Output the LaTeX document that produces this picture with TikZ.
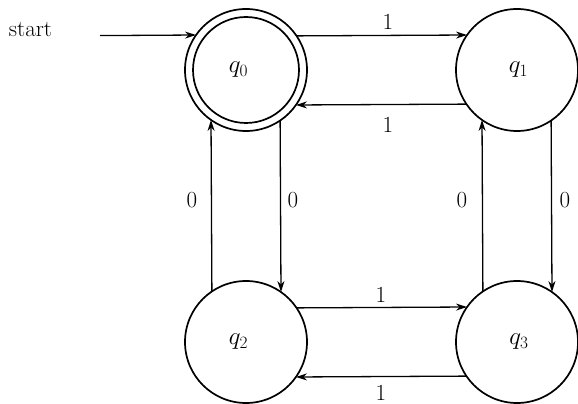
\documentclass[tikz,border=0pt]{standalone}
\usetikzlibrary{arrows.meta}
\begin{document}
\begin{tikzpicture}[x=1pt,y=1pt,
  stnode/.style={circle,draw,line width=1.7pt,minimum size=122pt,inner sep=0pt,outer sep=0pt,font=\fontsize{23}{27}\selectfont},
  trans/.style={line width=1.3pt,-{Stealth[length=11pt,width=7pt,inset=3.5pt]}},
  lbl/.style={font=\fontsize{23}{27}\selectfont,inner sep=0pt}]
\useasboundingbox (0,0) rectangle (578,404);
\node[stnode] (q0) at (246,334) {\hspace*{-15pt}$q_0$};
\node[stnode] (q1) at (517,334) {\hspace*{3pt}$q_1$};
\node[stnode] (q2) at (246,62) {\hspace*{-15pt}$q_2$};
\node[stnode] (q3) at (517,62) {\hspace*{4pt}$q_3$};
\draw[line width=1.7pt] (q0.center) circle[radius=53pt];
% start
\node[lbl,anchor=base] (st) at (30.5,367) {start};
\coordinate (s0) at (100,368.4);
\draw[trans] (s0) -- (q0.145.6);
% horizontal top
\draw[trans] (q0.34.4) -- (q1.145.6);
\draw[trans] (q1.214.4) -- (q0.325.6);
% horizontal bottom
\draw[trans] (q2.34.4) -- (q3.145.6);
\draw[trans] (q3.214.4) -- (q2.325.6);
% vertical left
\draw[trans] (q0.304.4) -- (q2.55.6);
\draw[trans] (q2.124.4) -- (q0.235.6);
% vertical right
\draw[trans] (q1.304.4) -- (q3.55.6);
\draw[trans] (q3.124.4) -- (q1.235.6);
% labels
\node[lbl] (l1) at (388,382) {1};
\node[lbl] (l2) at (388,279) {1};
\node[lbl] (l3) at (381,109) {1};
\node[lbl] (l4) at (381,11) {1};
\node[lbl] (l5) at (192,204) {0};
\node[lbl] (l6) at (293,204) {0};
\node[lbl] (l7) at (462,204) {0};
\node[lbl] (l8) at (565,204) {0};
\end{tikzpicture}
\end{document}
